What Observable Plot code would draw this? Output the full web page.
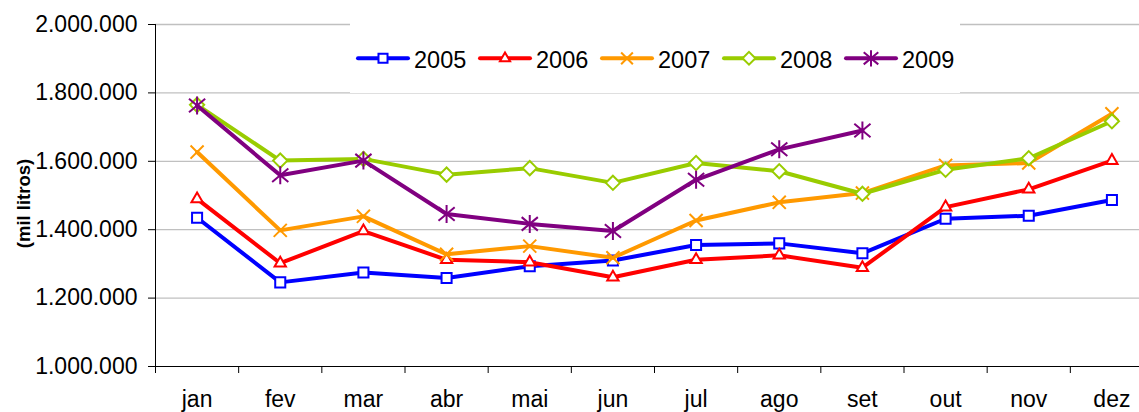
<!DOCTYPE html>
<html><head><meta charset="utf-8">
<script src="https://cdn.jsdelivr.net/npm/d3@7"></script>
<script src="https://cdn.jsdelivr.net/npm/@observablehq/plot@0.6"></script>
<style>
html,body{margin:0;padding:0;background:#fff;overflow:hidden;}
#wrap{position:relative;width:1139px;height:412px;font-family:"Liberation Sans",Arial,sans-serif;}
#legend{position:absolute;left:350px;top:16px;}
</style></head>
<body><div id="wrap"><div id="chart"></div><svg id="legend" width="610" height="77"></svg></div>
<script>
const months = ["jan","fev","mar","abr","mai","jun","jul","ago","set","out","nov","dez"];
const years = ["2005","2006","2007","2008","2009"];
const v2005 = [1435000,1246000,1275000,1259000,1293000,1310000,1355000,1360000,1331000,1432000,1441000,1487000];
const v2006 = [1490000,1302000,1396000,1312000,1305000,1261000,1312000,1325000,1289000,1466000,1518000,1602000];
const v2007 = [1627000,1398000,1439000,1328000,1352000,1318000,1427000,1480000,1507000,1588000,1595000,1739000];
const v2008 = [1765000,1602000,1607000,1561000,1580000,1537000,1595000,1571000,1505000,1575000,1609000,1717000];
const v2009 = [1763000,1559000,1602000,1446000,1417000,1396000,1546000,1635000,1690000,null,null,null];
const yTicks = [1000000,1200000,1400000,1600000,1800000,2000000];
const yLabel = "(mil litros)";

const seriesValues = [v2005,v2006,v2007,v2008,v2009];
const colors = ["#0000FF","#FF0000","#FF9900","#99CC00","#800080"];

// Excel-style star marker: X plus vertical bar
const excelStar = {
  draw(ctx, size) {
    const a = Math.sqrt(size / Math.PI);
    ctx.moveTo(0, -a); ctx.lineTo(0, a);
    ctx.moveTo(-0.9 * a, -0.75 * a); ctx.lineTo(0.9 * a, 0.75 * a);
    ctx.moveTo(-0.9 * a, 0.75 * a); ctx.lineTo(0.9 * a, -0.75 * a);
  }
};
const symbols = [d3.symbolSquare2, d3.symbolTriangle2, d3.symbolTimes, d3.symbolDiamond2, excelStar];
const symR = [6.4,5.4,6,6.4,9];
const fills = ["white","white","none","white","none"];

const fmt = d3.formatLocale({decimal:",",thousands:".",grouping:[3],currency:["",""]}).format(",");

const rows = seriesValues.map((vals,k) => vals.map((v,i)=>({year:years[k], x:i+0.5, v})).filter(d=>d.v!=null));

const seriesMarks = [];
rows.forEach((data,k) => {
  seriesMarks.push(Plot.line(data,{x:"x",y:"v",stroke:colors[k],strokeWidth:4,strokeLinejoin:"round",strokeLinecap:"round"}));
  seriesMarks.push(Plot.dot(data,{x:"x",y:"v",symbol:symbols[k],r:symR[k],stroke:colors[k],fill:fills[k],strokeWidth:2}));
});

const chart = Plot.plot({
  width:1139, height:412,
  marginLeft:155, marginRight:-14, marginTop:24, marginBottom:46,
  style:{fontFamily:'"Liberation Sans",Arial,sans-serif',fontSize:"23px",color:"#000",background:"#fff"},
  x:{type:"linear",domain:[0,12]},
  y:{domain:[1000000,2000000]},
  marks:[
    Plot.gridY({ticks:yTicks.slice(1),stroke:"#c0c0c0",strokeOpacity:1,strokeWidth:1.3}),
    Plot.axisY({ticks:yTicks,tickFormat:fmt,tickSize:7,tickPadding:11,label:null,stroke:"#000",strokeOpacity:1,letterSpacing:"0.5px"}),
    Plot.axisX({ticks:d3.range(0,12),tickFormat:()=>"",tickSize:7,label:null,stroke:"#000",strokeOpacity:1}),
    Plot.axisX({ticks:months.map((m,i)=>i+0.5),tickFormat:d=>months[Math.floor(d)],tickSize:0,tickPadding:24,label:null}),
    Plot.ruleX([0],{stroke:"#000"}),
    Plot.ruleY([1000000],{stroke:"#000"}),
    Plot.text([yLabel],{text:d=>d,frameAnchor:"left",textAnchor:"middle",rotate:-90,dx:-131,dy:8,fontWeight:"bold",fontSize:18.5,fill:"#000"}),
    ...seriesMarks
  ]
});
document.getElementById("chart").appendChild(chart);

// legend
const lg = d3.select("#legend");
lg.append("rect").attr("width",610).attr("height",77).attr("fill","#fff");
years.forEach((yr,k)=>{
  const g = lg.append("g").attr("transform",`translate(${6+122*k},42.3)`);
  g.append("line").attr("x1",2).attr("x2",52).attr("stroke",colors[k]).attr("stroke-width",4).attr("stroke-linecap","round");
  const r = symR[k]*0.9;
  g.append("path").attr("transform","translate(27,0)").attr("d",d3.symbol(symbols[k],Math.PI*r*r)())
   .attr("stroke",colors[k]).attr("stroke-width",2).attr("fill",fills[k]);
  g.append("text").attr("x",58).attr("y",10).attr("font-size",23.5).attr("fill","#000")
   .attr("font-family",'"Liberation Sans",Arial,sans-serif').text(yr);
});
</script></body></html>
